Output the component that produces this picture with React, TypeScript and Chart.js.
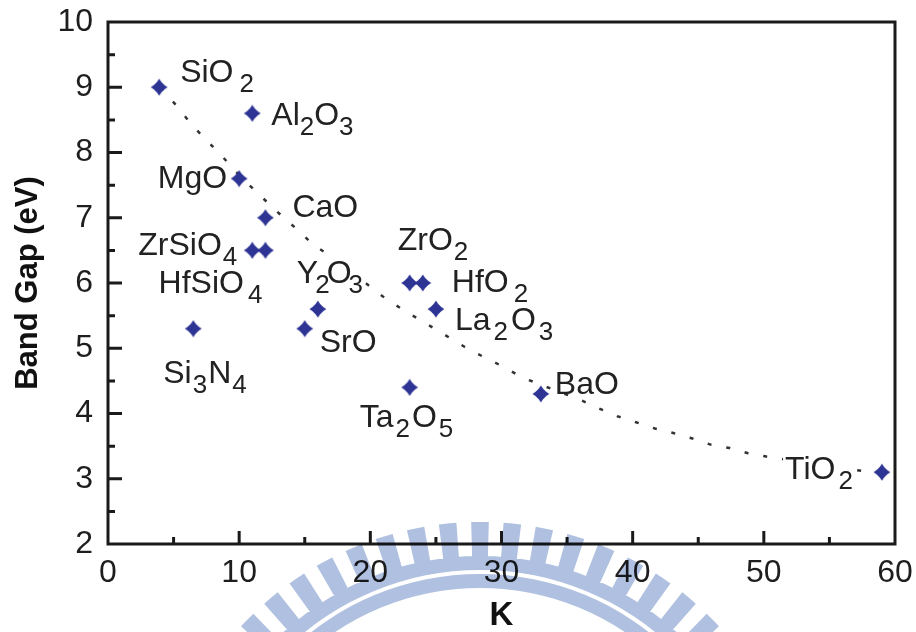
import React, { useEffect, useRef } from "react";
import { Chart, registerables } from "chart.js";

Chart.register(...registerables);

// ---------------- data ----------------
const materialLabels = [
  "SiO{2}", "Al{2}O{3}", "MgO", "CaO", "ZrSiO{4}", "HfSiO{4}", "Y{2}O{3}", "SrO",
  "Si{3}N{4}", "Ta{2}O{5}", "ZrO{2}", "HfO{2}", "La{2}O{3}", "BaO", "TiO{2}",
];
const dielectricK = [3.9, 11, 10, 12, 11, 12, 16, 15, 6.5, 23, 23, 24, 25, 33, 59];
const bandGapEV = [9.0, 8.6, 7.6, 7.0, 6.5, 6.5, 5.6, 5.3, 5.3, 4.4, 6.0, 6.0, 5.6, 4.3, 3.1];

// dotted guide curve
const trendK = [
  4, 5.3, 6.4, 7.6, 8.8, 10, 11.4, 12.8, 14.2, 15.7, 17.2, 21.3, 22.9, 24.4, 25.8,
  27.2, 28.6, 30.1, 31.5, 33, 36, 37.4, 38.8, 40.2, 41.7, 43.1, 44.5, 46, 47.4, 48.8,
  50.2, 57.5, 59,
];
const trendGap = [
  9.0, 8.7, 8.42, 8.17, 7.92, 7.65, 7.38, 7.11, 6.86, 6.58, 6.38, 5.74, 5.54, 5.36, 5.19,
  5.02, 4.87, 4.72, 4.56, 4.44, 4.21, 4.08, 3.96, 3.87, 3.77, 3.7, 3.62, 3.52, 3.47, 3.39,
  3.34, 3.12, 3.1,
];

const xTickValues = [0, 10, 20, 30, 40, 50, 60];
const xMinorTicks = [5, 15, 25, 35, 45, 55];
const yTickValues = [2, 3, 4, 5, 6, 7, 8, 9, 10];
const yMinorTicks = [2.5, 3.5, 4.5, 5.5, 6.5, 7.5, 8.5, 9.5];

const xTitle = "K";
const yTitle = "Band Gap (eV)";

// ---------------- label placement (pixels relative to marker) ----------------
const labelLayout = [
  { dx: 21, dy: -5, align: "left", subGap: 6 }, // SiO2
  { dx: 19, dy: 12, align: "left", subGap: 0 }, // Al2O3
  { dx: -12, dy: 9, align: "right", subGap: 0 }, // MgO
  { dx: 27, dy: -1, align: "left", subGap: 0 }, // CaO
  { dx: -15, dy: 5, align: "right", subGap: 1 }, // ZrSiO4
  { dx: -3, dy: 43, align: "right", subGap: 4 }, // HfSiO4
  { dx: -21, dy: -26, align: "left", subGap: -3, mask: true }, // Y2O3
  { dx: 15, dy: 23, align: "left", subGap: 0 }, // SrO
  { dx: -30, dy: 54, align: "left", subGap: 1 }, // Si3N4
  { dx: -50, dy: 40, align: "left", subGap: 2 }, // Ta2O5
  { dx: -12, dy: -33, align: "left", subGap: 1 }, // ZrO2
  { dx: 29, dy: 9, align: "left", subGap: 5 }, // HfO2
  { dx: 19, dy: 21, align: "left", subGap: 3 }, // La2O3
  { dx: 14, dy: 0, align: "left", subGap: 0 }, // BaO
  { dx: -29, dy: 7, align: "right", subGap: 3, mask: true }, // TiO2
];

const FONT = "'Liberation Sans', Arial, Helvetica, sans-serif";
const MAIN_FONT = `32px ${FONT}`;
const SUB_FONT = `26px ${FONT}`;
const TEXT_COLOR = "#222222";
const MARKER_COLOR = "#2d3494";

function parseParts(s: string) {
  const parts: { t: string; sub: boolean }[] = [];
  const re = /\{([^}]*)\}|([^{]+)/g;
  let m: RegExpExecArray | null;
  while ((m = re.exec(s))) {
    if (m[1] !== undefined) parts.push({ t: m[1], sub: true });
    else parts.push({ t: m[2], sub: false });
  }
  return parts;
}

function makeMarker(color: string) {
  const c = document.createElement("canvas");
  c.width = 18;
  c.height = 18;
  const g = c.getContext("2d")!;
  g.fillStyle = color;
  const cx = 9, cy = 9, R = 8.4, r = 4.8;
  g.beginPath();
  for (let i = 0; i < 8; i++) {
    const a = (i * Math.PI) / 4 - Math.PI / 2;
    const rad = i % 2 === 0 ? R : r;
    g.lineTo(cx + rad * Math.cos(a), cy + rad * Math.sin(a));
  }
  g.closePath();
  g.fill();
  g.beginPath();
  g.arc(cx, cy, 5.3, 0, Math.PI * 2);
  g.fill();
  return c;
}

function drawWatermark(ctx: CanvasRenderingContext2D) {
  const cx = 480, cy = 848;
  ctx.save();
  ctx.globalCompositeOperation = "multiply";
  ctx.fillStyle = "#afc0e0";
  ctx.beginPath();
  const step = (5.7 * Math.PI) / 180;
  const half = (1.55 * Math.PI) / 180;
  for (let k = -17; k <= 17; k++) {
    const a = -Math.PI / 2 + k * step;
    ctx.moveTo(cx + 326 * Math.cos(a - half), cy + 326 * Math.sin(a - half));
    ctx.arc(cx, cy, 326, a - half, a + half);
    ctx.arc(cx, cy, 289, a + half, a - half, true);
    ctx.closePath();
  }
  ctx.moveTo(cx + 292, cy);
  ctx.arc(cx, cy, 292, 0, Math.PI * 2);
  ctx.moveTo(cx + 278, cy);
  ctx.arc(cx, cy, 278, Math.PI * 2, 0, true);
  ctx.moveTo(cx + 274, cy);
  ctx.arc(cx, cy, 274, 0, Math.PI * 2);
  ctx.moveTo(cx + 260, cy);
  ctx.arc(cx, cy, 260, Math.PI * 2, 0, true);
  ctx.fill("nonzero");
  ctx.restore();
}

export default function App() {
  const ref = useRef<HTMLCanvasElement>(null);

  useEffect(() => {
    document.body.style.margin = "0";
    const canvas = ref.current!;
    const marker = makeMarker(MARKER_COLOR);
    const labelParts = materialLabels.map(parseParts);

    const decorPlugin = {
      id: "decor",
      beforeDraw(chart: any) {
        const ctx = chart.ctx;
        ctx.save();
        ctx.fillStyle = "#ffffff";
        ctx.fillRect(0, 0, chart.width, chart.height);
        ctx.restore();
      },
      beforeDatasetDraw(chart: any, args: any) {
        if (args.index !== 1) return;
        const ctx: CanvasRenderingContext2D = chart.ctx;
        const xs = chart.scales.x, ys = chart.scales.y;
        ctx.save();
        ctx.textBaseline = "alphabetic";
        ctx.textAlign = "left";
        labelParts.forEach((parts, i) => {
          const lay: any = labelLayout[i];
          const px = xs.getPixelForValue(dielectricK[i]);
          const py = ys.getPixelForValue(bandGapEV[i]);
          const bx = px + lay.dx, by = py + lay.dy;
          const widths: number[] = [];
          let total = 0;
          parts.forEach((p, j) => {
            ctx.font = p.sub ? SUB_FONT : MAIN_FONT;
            const w = ctx.measureText(p.t).width;
            const gap = j > 0 ? lay.subGap : 0;
            widths.push(w);
            total += w + gap;
          });
          let sx = lay.align === "right" ? bx - total : bx;
          if (lay.mask) {
            ctx.fillStyle = "#ffffff";
            ctx.fillRect(sx - 2, by - 25, total + 4, 38);
          }
          ctx.fillStyle = TEXT_COLOR;
          parts.forEach((p, j) => {
            if (j > 0) sx += lay.subGap;
            ctx.font = p.sub ? SUB_FONT : MAIN_FONT;
            ctx.fillText(p.t, sx, p.sub ? by + 10 : by);
            sx += widths[j];
          });
        });
        ctx.restore();
      },
      afterDatasetsDraw(chart: any) {
        const ctx: CanvasRenderingContext2D = chart.ctx;
        const { left, right, top, bottom } = chart.chartArea;
        const xs = chart.scales.x, ys = chart.scales.y;
        ctx.save();
        ctx.strokeStyle = "#1a1a1a";
        ctx.lineWidth = 3;
        ctx.lineCap = "butt";
        ctx.beginPath();
        yTickValues.forEach((v) => {
          if (v === 2 || v === 10) return;
          const p = ys.getPixelForValue(v);
          ctx.moveTo(left, p);
          ctx.lineTo(left + 14, p);
        });
        yMinorTicks.forEach((v) => {
          const p = ys.getPixelForValue(v);
          ctx.moveTo(left, p);
          ctx.lineTo(left + 7, p);
        });
        xTickValues.forEach((v) => {
          if (v === 0 || v === 60) return;
          const p = xs.getPixelForValue(v);
          ctx.moveTo(p, bottom);
          ctx.lineTo(p, bottom - 13);
        });
        xMinorTicks.forEach((v) => {
          const p = xs.getPixelForValue(v);
          ctx.moveTo(p, bottom);
          ctx.lineTo(p, bottom - 7);
        });
        ctx.stroke();
        ctx.strokeRect(left, top, right - left, bottom - top);
        ctx.restore();
      },
      afterDraw(chart: any) {
        drawWatermark(chart.ctx);
      },
    };

    const chart = new Chart(canvas, {
      type: "scatter",
      data: {
        datasets: [
          {
            type: "line",
            label: "trend",
            data: trendK.map((k, i) => ({ x: k, y: trendGap[i] })),
            borderColor: "#333333",
            borderWidth: 2.5,
            borderDash: [4, 15],
            pointRadius: 0,
            fill: false,
            tension: 0,
            order: 2,
            clip: false,
          } as any,
          {
            type: "scatter",
            label: "materials",
            data: dielectricK.map((k, i) => ({ x: k, y: bandGapEV[i] })),
            pointStyle: marker as any,
            pointRadius: 9,
            backgroundColor: MARKER_COLOR,
            borderColor: MARKER_COLOR,
            order: 1,
            clip: false,
          } as any,
        ],
      },
      options: {
        animation: false,
        responsive: false,
        devicePixelRatio: 1,
        layout: { padding: { top: 22, right: 21, bottom: 0, left: 0 } },
        plugins: { legend: { display: false }, tooltip: { enabled: false } },
        scales: {
          x: {
            type: "linear",
            min: 0,
            max: 60,
            afterBuildTicks: (s: any) => {
              s.ticks = xTickValues.map((v) => ({ value: v }));
            },
            afterFit: (s: any) => {
              s.height = 88;
              s.paddingLeft = 0;
              s.paddingRight = 0;
            },
            grid: { display: false, drawTicks: false },
            border: { display: false },
            ticks: {
              autoSkip: false,
              maxRotation: 0,
              padding: 13,
              color: "#1e1e1e",
              font: { family: FONT, size: 32, lineHeight: 1 },
            },
            title: {
              display: true,
              text: xTitle,
              color: "#111111",
              font: { family: FONT, size: 33, weight: "bold", lineHeight: 1 },
              padding: { top: 0, bottom: 0 },
            },
          },
          y: {
            type: "linear",
            min: 2,
            max: 10,
            afterBuildTicks: (s: any) => {
              s.ticks = yTickValues.map((v) => ({ value: v }));
            },
            afterFit: (s: any) => {
              s.width = 108;
              s.paddingTop = 0;
              s.paddingBottom = 0;
            },
            grid: { display: false, drawTicks: false },
            border: { display: false },
            ticks: {
              autoSkip: false,
              padding: 15,
              color: "#1e1e1e",
              font: { family: FONT, size: 32, lineHeight: 1 },
            },
            title: {
              display: true,
              text: yTitle,
              color: "#111111",
              font: { family: FONT, size: 31, weight: "bold", lineHeight: 1 },
              padding: { top: 13, bottom: 0 },
            },
          },
        },
      } as any,
      plugins: [decorPlugin],
    });

    return () => chart.destroy();
  }, []);

  return (
    <div style={{ position: "fixed", left: 0, top: 0, width: 916, height: 632, background: "#fff" }}>
      <canvas ref={ref} width={916} height={632} style={{ display: "block", width: 916, height: 632 }} />
    </div>
  );
}
